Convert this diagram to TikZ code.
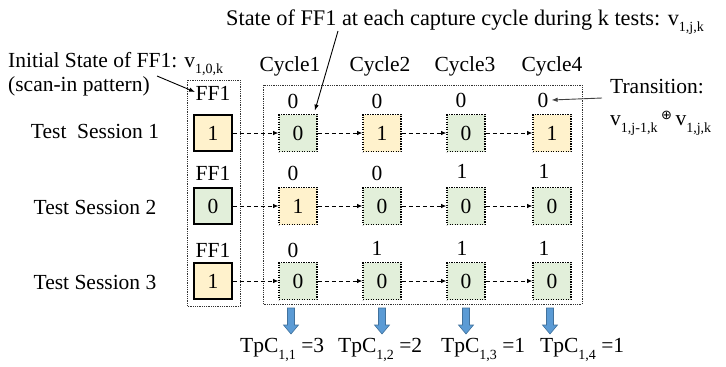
\documentclass[tikz,border=0pt]{standalone}
\usepackage{fontspec}
\setmainfont{Liberation Serif}
\newfontfamily\symfont{DejaVu Sans}
\usetikzlibrary{arrows.meta}

% lowered index set in a smaller size
\newcommand{\lowidx}[1]{\raisebox{-0.3em}{\fontsize{14}{14}\selectfont #1}}

\definecolor{ffgreen}{HTML}{E2EFDA}
\definecolor{fforange}{HTML}{FFF2CC}
\definecolor{arrowblue}{HTML}{5B9BD5}
\definecolor{arrowedge}{HTML}{41719C}

\tikzset{
  initbox/.style={draw=black, line width=1.6pt, minimum width=38pt, minimum height=36pt, inner sep=0pt},
  cycbox/.style={draw=black, line width=1.7pt, dash pattern=on 1.4pt off 1.1pt, minimum width=38pt, minimum height=37pt, inner sep=0pt},
  zero/.style={fill=ffgreen},
  one/.style={fill=fforange},
  groupbox/.style={draw=black!80, line width=0.7pt, dash pattern=on 0.9pt off 0.9pt},
  dasharrow/.style={draw=black, line width=0.8pt, dash pattern=on 4pt off 3pt, -{Latex[length=5pt,width=4.5pt]}},
  notearrow/.style={draw=black, line width=0.9pt, -{Latex[length=6pt,width=4.5pt]}},
  plain/.style={inner sep=0pt, anchor=center},
  flowarrow/.style={fill=arrowblue, draw=arrowedge, line width=0.6pt},
}

\begin{document}
\begin{tikzpicture}[x=1pt, y=-1pt, font=\fontsize{21.5}{24}\selectfont]
\useasboundingbox (0,0) rectangle (726,367);

% group frames
\draw[groupbox] (187,80) rectangle (240,306);
\draw[groupbox] (263,85) rectangle (582,304);

% headings and notes
\node[plain, font=\fontsize{22.3}{25}\selectfont] (note) at (465,22) {State of FF1 at each capture cycle during k tests: v\lowidx{1,j,k}};
\node[plain, anchor=west] (init) at (8,64) {Initial State of FF1: v\lowidx{1,0,k}};
\node[plain, anchor=west] (scan) at (8,86) {(scan-in pattern)};
\node[plain] (cy1) at (290,66) {Cycle1};
\node[plain] (cy2) at (380,66) {Cycle2};
\node[plain] (cy3) at (465,66) {Cycle3};
\node[plain] (cy4) at (552,66) {Cycle4};
\node[plain, anchor=west] (trans) at (610,87) {Transition:};
\node[plain, anchor=west] (xorf) at (610,123) {v\lowidx{1,j-1,k}\,\raisebox{0.3em}{\symfont\fontsize{13}{13}\selectfont ⊕}\,v\lowidx{1,j,k}};

% session labels
\node[plain] (s1) at (95,131) {Test\ \ Session 1};
\node[plain] (s2) at (95,207) {Test Session 2};
\node[plain] (s3) at (95,282) {Test Session 3};

% initial flip-flop states
\node[plain] (f1) at (213,93) {FF1};
\node[plain] (f2) at (213,173) {FF1};
\node[plain] (f3) at (213,250) {FF1};
\node[initbox, one]  (i1) at (213,133) {1};
\node[initbox, zero] (i2) at (213,206) {0};
\node[initbox, one]  (i3) at (213,281) {1};

% captured states per cycle
\node[cycbox, zero] (c11) at (298,133) {0};
\node[cycbox, one]  (c12) at (382,133) {1};
\node[cycbox, zero] (c13) at (466,133) {0};
\node[cycbox, one]  (c14) at (552,133) {1};
\node[cycbox, one]  (c21) at (298,206) {1};
\node[cycbox, zero] (c22) at (382,206) {0};
\node[cycbox, zero] (c23) at (466,206) {0};
\node[cycbox, zero] (c24) at (552,206) {0};
\node[cycbox, zero] (c31) at (298,281) {0};
\node[cycbox, zero] (c32) at (382,281) {0};
\node[cycbox, zero] (c33) at (466,281) {0};
\node[cycbox, zero] (c34) at (552,281) {0};

% transition values
\node[plain] (t11) at (293,101) {0};
\node[plain] (t12) at (377,101) {0};
\node[plain] (t13) at (461,100) {0};
\node[plain] (t14) at (543,100) {0};
\node[plain] (t21) at (293,173) {0};
\node[plain] (t22) at (377,173) {0};
\node[plain] (t23) at (462,171) {1};
\node[plain] (t24) at (544,171) {1};
\node[plain] (t31) at (293,250) {0};
\node[plain] (t32) at (377,248) {1};
\node[plain] (t33) at (462,248) {1};
\node[plain] (t34) at (544,248) {1};

% shift chains
\foreach \r in {1,2,3}{
  \draw[dasharrow] (i\r.east) -- (c\r1.west);
  \draw[dasharrow] (c\r1.east) -- (c\r2.west);
  \draw[dasharrow] (c\r2.east) -- (c\r3.west);
  \draw[dasharrow] (c\r3.east) -- (c\r4.west);
}

% annotation pointers
\coordinate (noteend) at (338,31);
\draw[notearrow] (noteend) -- ([xshift=-3pt,yshift=3pt]c11.north east);
\coordinate (scanend) at (157,76);
\coordinate (ffcorner) at (195,92);
\draw[notearrow] (scanend) -- (ffcorner);
\coordinate (transend) at (602,98);
\draw[notearrow, draw=black!75] (transend) -- ([xshift=3pt]t14.east);

% block arrows to the counts
\foreach \x in {291,382,466,550}{
  \draw[flowarrow] (\x-3.5,308) -- (\x+3.5,308) -- (\x+3.5,325) -- (\x+7.5,325)
    -- (\x,334) -- (\x-7.5,325) -- (\x-3.5,325) -- cycle;
}

% transition counts
\node[plain, anchor=west] (p1) at (240,350) {TpC\lowidx{1,1} =3};
\node[plain, anchor=west] (p2) at (338,350) {TpC\lowidx{1,2} =2};
\node[plain, anchor=west] (p3) at (441,350) {TpC\lowidx{1,3} =1};
\node[plain, anchor=west] (p4) at (540,350) {TpC\lowidx{1,4} =1};
\end{tikzpicture}
\end{document}
